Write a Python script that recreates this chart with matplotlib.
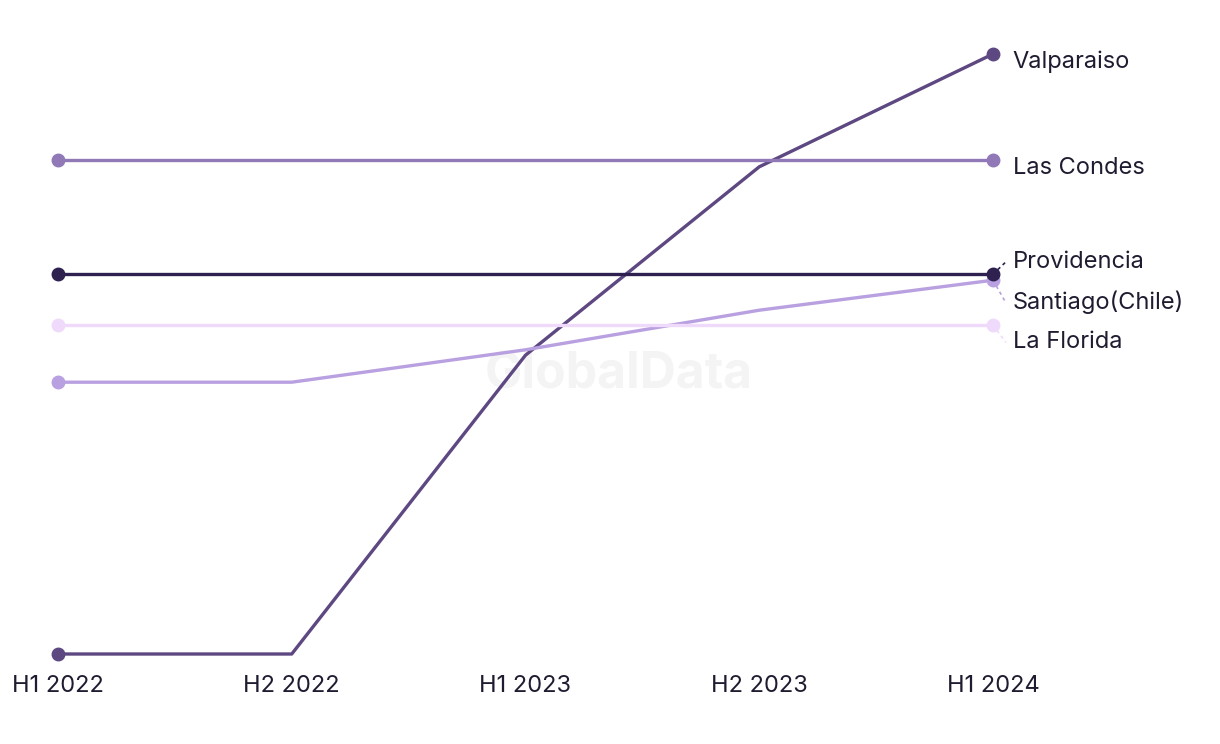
import matplotlib.pyplot as plt

plt.rcParams['font.family'] = ['Inter', 'DejaVu Sans']

# 数据
periods = ['H1 2022', 'H2 2022', 'H1 2023', 'H2 2023', 'H1 2024']
cities = ['Valparaiso', 'Las Condes', 'Providencia', 'Santiago(Chile)', 'La Florida']
valparaiso = [0, 0, 49.8, 81.2, 100]
las_condes = [82.3, 82.3, 82.3, 82.3, 82.3]
providencia = [63.3, 63.3, 63.3, 63.3, 63.3]
santiago = [45.3, 45.3, 50.7, 57.3, 62.3]
la_florida = [54.8, 54.8, 54.8, 54.8, 54.8]

series = [valparaiso, las_condes, providencia, santiago, la_florida]
colors = ['#5e4882', '#9079b6', '#2e2150', '#b9a0e0', '#f0dafb']
label_offsets = [-1.35, -1.35, 2.05, -3.75, -2.85]  # 标签位置微调
text_color = '#1e1c30'

fig = plt.figure(figsize=(12.2, 7.44), dpi=100)
ax = fig.add_axes([0, 0, 1, 1])
ax.set_xlim(-0.248, 4.971)
ax.set_ylim(-15, 109)
ax.axis('off')

# 水印
ax.text(2.4, 46.5, 'GlobalData', fontsize=36, fontweight='bold', color='#f4f4f4',
        ha='center', va='center', zorder=0)

x = list(range(len(periods)))
order = [4, 3, 1, 0, 2]
for i in order:
    vals = series[i]
    ax.plot(x, vals, color=colors[i], lw=2.4, solid_joinstyle='round', zorder=2 + i * 0.1)
    ax.plot([x[0], x[-1]], [vals[0], vals[-1]], 'o', color=colors[i], ms=9, zorder=3)

for i, name in enumerate(cities):
    end = series[i][-1]
    ty = end + label_offsets[i]
    ax.text(4.085, ty, name, fontsize=17, color=text_color, ha='left', va='center')
    if abs(label_offsets[i]) > 2:
        ax.plot([4.0, 4.055], [end, ty], ls=(0, (2, 2)), lw=1.2, color=colors[i], zorder=1)

for xi, p in zip(x, periods):
    ax.text(xi, -5.4, p, fontsize=17, color=text_color, ha='center', va='center')

plt.savefig('out.png', dpi=100, facecolor='white')
